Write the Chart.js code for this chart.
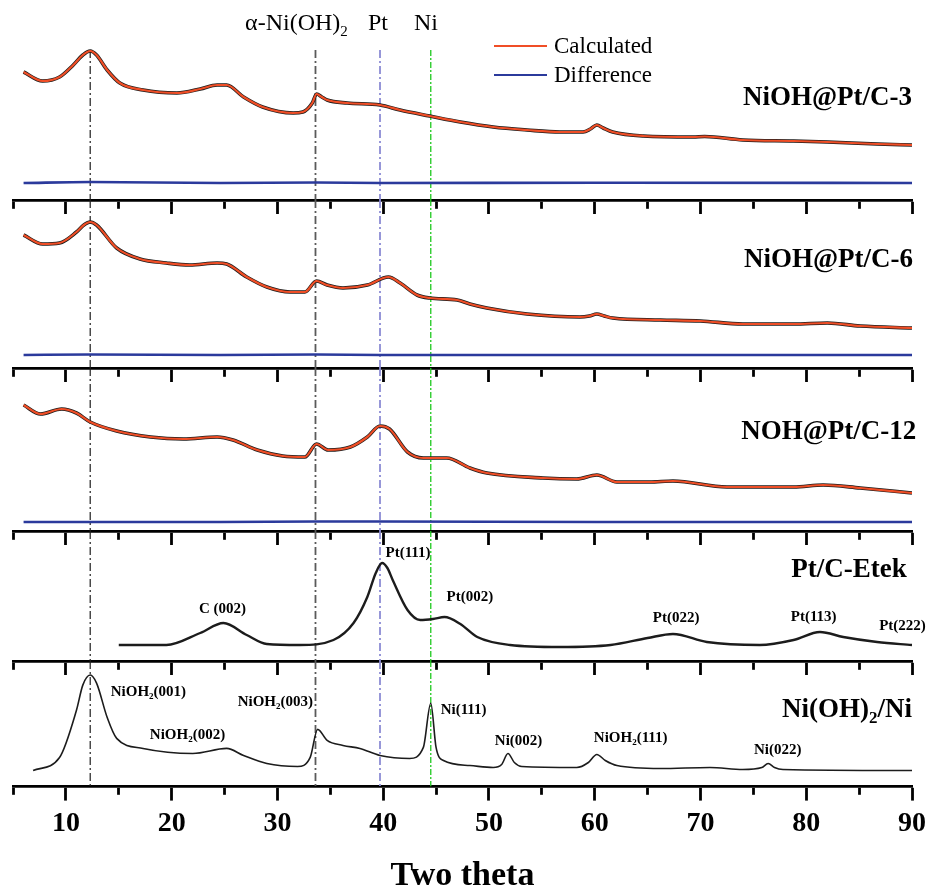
<!DOCTYPE html>
<html>
<head>
<meta charset="utf-8">
<script src="https://cdn.jsdelivr.net/npm/chart.js@4.4.1/dist/chart.umd.min.js"></script>
<style>
  html, body { margin: 0; padding: 0; background: #fff; }
  body { width: 929px; height: 891px; position: relative; overflow: hidden; font-family: "Liberation Serif", "Times New Roman", serif; }
  canvas { position: absolute; left: 0; }
  .key-line { position: absolute; height: 0; border-top: 2px solid; width: 53px; left: 494px; }
  .key-text { position: absolute; left: 554px; font-size: 23px; line-height: 1; color: #000; }
</style>
</head>
<body>
<script>
// XRD patterns, two theta (deg) vs intensity (a.u.)

const xMin = 5;
const xMax = 90;
const xStep = 5;

// reference peak positions (dash-dot guides)
const refPeaks = [12.3, 33.6, 39.7, 44.5];
const refColors = ['#1e1e1e', '#5a5a5a', '#8c8cd4', '#1ec81e'];
const refWidths = [1.2, 1.8, 1.8, 1.3];
const refTop = 150;

// NiOH@Pt/C-3
const c3X = [6, 7.8, 9.4, 10.7, 11.6, 12.3, 12.9, 13.9, 15.1, 17.3, 20.5, 22.7, 24.3, 25.2, 26.8, 28.6, 31.5, 32.4, 33.3, 33.7, 34.2, 34.7, 36.6, 39.7, 41.6, 44.4, 47.3, 50.4, 53.6, 56.7, 58.9, 59.6, 60.2, 60.8, 61.7, 64.6, 69.3, 70.4, 74, 78.8, 82, 86.7, 90];
const c3Y = [128, 119, 123, 135, 145, 149, 145, 130, 117, 110, 107, 111, 115, 115, 103, 93, 87, 88, 97, 106, 103, 100, 97, 95, 90, 84, 78, 73, 70, 68, 68, 71, 75, 72, 68, 64, 63, 63.5, 60, 59, 58, 56, 55];
const c3DiffX = [6, 12.3, 24.6, 33.7, 39.7, 60.2, 90];
const c3Diff = [17, 18, 17, 17.5, 17, 17.3, 17];

// NiOH@Pt/C-6
const c6X = [6, 7.8, 9.4, 11, 11.7, 12.3, 12.9, 14.8, 17, 19.5, 21.7, 24.3, 25.2, 27.1, 29, 31.2, 32.6, 33.7, 34.7, 36.2, 38.5, 40.5, 41.6, 43.2, 44.4, 47, 48.2, 49.8, 53.6, 58.6, 59.5, 60.2, 60.9, 61.7, 66.2, 70, 74, 78.8, 82, 85.1, 90];
const c6Y = [133, 124, 125, 136, 143, 146, 143, 120, 109, 105, 103, 105, 104, 91, 81, 76, 76, 87, 83, 80, 83, 91, 85, 73, 70, 68, 64, 60, 54, 51, 52, 54, 52, 50, 48, 47, 44, 44, 45, 42, 40];
const c6DiffX = [6, 12.3, 24.6, 33.7, 39.7, 60.2, 90];
const c6Diff = [13, 13.5, 13, 13.5, 13, 13, 13];

// NOH@Pt/C-12
const c12X = [6, 7.6, 9.6, 11, 12.3, 14.8, 18, 21.1, 24.3, 25.8, 28.1, 30.5, 32.6, 33.7, 34.8, 36.9, 38.5, 39.7, 40.6, 42.3, 43.8, 46, 48.2, 49.8, 55.1, 58.3, 60.2, 62.1, 65.2, 67.4, 72.5, 78.8, 81.6, 85.1, 90];
const c12Y = [126, 117, 122, 118, 109, 100, 94, 92, 94, 91, 81, 75, 74, 87, 81, 84, 94, 105, 102, 79, 73, 73, 63, 58, 53, 52, 56, 49, 49, 50, 44, 44, 46, 43, 38];
const c12DiffX = [6, 12.3, 24.6, 33.7, 39.7, 60.2, 90];
const c12Diff = [9, 9, 9, 9.5, 9.5, 9, 9];

// Pt/C-Etek
const etekX = [15, 19.5, 22.7, 24.9, 27.1, 29, 32.1, 35.3, 37.2, 38.5, 39.3, 39.9, 40.4, 40.9, 42.3, 43.5, 44.7, 45.8, 47.3, 48.9, 52, 56.7, 61.5, 65, 67.4, 70.6, 75.6, 78.8, 81.3, 83.5, 86.7, 90];
const etekY = [16, 16, 28, 38, 26, 17, 16, 21, 38, 64, 88, 98, 93, 81, 51, 41, 42, 44, 37, 24, 16, 14, 16, 23, 27, 19, 16, 21, 29, 24, 19, 16];
const etekPeakNames = ['C (002)', 'Pt(111)', 'Pt(002)', 'Pt(022)', 'Pt(113)', 'Pt(222)'];
const etekPeakX = [24.8, 42.35, 48.2, 67.7, 80.7, 89.1];
const etekPeakY = [52, 108, 64, 43, 44, 35];

// Ni(OH)2/Ni
const niX = [6.9, 9.4, 11, 11.6, 12.3, 12.9, 13.9, 14.8, 17.3, 22, 25.2, 26.8, 29, 31.9, 33.1, 33.8, 34.7, 36.2, 37.8, 39.7, 42.5, 43.8, 44.5, 45, 45.7, 48.2, 50.4, 51.2, 51.8, 52.4, 53.1, 58.3, 59.4, 60.2, 61, 62.1, 66.2, 70.9, 74, 75.8, 76.4, 77, 77.8, 90];
const niY = [16, 29, 76, 101, 111, 103, 69, 48, 38, 33, 38, 31, 23, 20, 29, 57, 46, 41, 38, 31, 28, 39, 83, 39, 26, 21, 19, 22, 33, 24, 20, 19, 24, 32, 26, 21, 18, 19, 17, 19, 23, 19, 17, 16];
const niPeakNames = ['NiOH_2(001)', 'NiOH_2(002)', 'NiOH_2(003)', 'Ni(111)', 'Ni(002)', 'NiOH_2(111)', 'Ni(022)'];
const niPeakX = [17.8, 21.5, 29.8, 47.6, 52.8, 63.4, 77.3];
const niPeakY = [94, 51, 84, 76, 45, 48, 36];

const calcColor = '#f04e26';
const obsColor = '#1c1c1c';
const diffColor = '#2b3a9c';

Chart.defaults.font.family = '"Liberation Serif", "Times New Roman", serif';
Chart.defaults.color = '#000';

const pts = (xs, ys) => xs.map((x, i) => ({ x, y: ys[i] }));

// text with "_" marking the next character as subscript
function drawRich(ctx, text, x, y, size, weight, align) {
    const segs = [];
    text.split('_').forEach((p, i) => {
        if (i === 0) { segs.push({ t: p, sub: false }); return; }
        segs.push({ t: p[0], sub: true });
        segs.push({ t: p.slice(1), sub: false });
    });
    const fam = '"Liberation Serif", "Times New Roman", serif';
    const big = `${weight} ${size}px ${fam}`;
    const small = `${weight} ${Math.round(size * 0.62)}px ${fam}`;
    let w = 0;
    segs.forEach(s => { ctx.font = s.sub ? small : big; s.w = ctx.measureText(s.t).width; w += s.w; });
    let cx = align === 'right' ? x - w : (align === 'left' ? x : x - w / 2);
    ctx.save();
    ctx.fillStyle = '#000';
    ctx.textAlign = 'left';
    ctx.textBaseline = 'middle';
    segs.forEach(s => {
        ctx.font = s.sub ? small : big;
        ctx.fillText(s.t, cx, s.sub ? y + size * 0.32 : y);
        cx += s.w;
    });
    ctx.restore();
}

function notesPlugin(items) {
    return {
        id: 'notes',
        afterDatasetsDraw(chart) {
            const { ctx, scales } = chart;
            items.forEach(n => {
                drawRich(ctx, n.text, scales.x.getPixelForValue(n.x), scales.y.getPixelForValue(n.y),
                    n.size, n.weight || 'bold', n.align || 'center');
            });
        }
    };
}

function refSets(top) {
    return refPeaks.map((p, i) => ({
        data: [{ x: p, y: top }, { x: p, y: 0 }],
        borderColor: refColors[i],
        borderWidth: refWidths[i],
        borderDash: i === 3 ? [6, 2, 2, 2] : [8, 3, 2, 3],
        tension: 0,
        pointRadius: 0
    }));
}

function fitSets(xs, ys, dx, dy) {
    return [
        { data: pts(xs, ys), borderColor: calcColor, borderWidth: 2.2, pointRadius: 0, cubicInterpolationMode: 'monotone' },
        { data: pts(xs, ys), borderColor: obsColor, borderWidth: 3.6, pointRadius: 0, cubicInterpolationMode: 'monotone' },
        { data: pts(dx, dy), borderColor: diffColor, borderWidth: 2.6, pointRadius: 0, cubicInterpolationMode: 'monotone' }
    ];
}

const panels = [
    {
        top: 0, height: 214, yMax: 200, refTop: refTop,
        datasets: fitSets(c3X, c3Y, c3DiffX, c3Diff),
        notes: [
            { text: 'NiOH@Pt/C-3', x: 90, y: 102, size: 27, align: 'right' },
            { text: 'α-Ni(OH)_2', x: 31.8, y: 176, size: 24, weight: 'normal' },
            { text: 'Pt', x: 39.5, y: 176, size: 24, weight: 'normal' },
            { text: 'Ni', x: 44.05, y: 176, size: 24, weight: 'normal' }
        ]
    },
    {
        top: 200, height: 182, yMax: 168,
        datasets: fitSets(c6X, c6Y, c6DiffX, c6Diff),
        notes: [{ text: 'NiOH@Pt/C-6', x: 90.1, y: 108, size: 27, align: 'right' }]
    },
    {
        top: 368, height: 177, yMax: 163,
        datasets: fitSets(c12X, c12Y, c12DiffX, c12Diff),
        notes: [{ text: 'NOH@Pt/C-12', x: 90.4, y: 99, size: 27, align: 'right' }]
    },
    {
        top: 531, height: 144, yMax: 130,
        datasets: [{ data: pts(etekX, etekY), borderColor: obsColor, borderWidth: 2.4, pointRadius: 0, cubicInterpolationMode: 'monotone' }],
        notes: [{ text: 'Pt/C-Etek', x: 89.5, y: 91, size: 27, align: 'right' }]
            .concat(etekPeakNames.map((t, i) => ({ text: t, x: etekPeakX[i], y: etekPeakY[i], size: 15 })))
    },
    {
        top: 661, height: 236, yMax: 125, last: true,
        datasets: [{ data: pts(niX, niY), borderColor: obsColor, borderWidth: 1.6, pointRadius: 0, cubicInterpolationMode: 'monotone' }],
        notes: [{ text: 'Ni(OH)_2/Ni', x: 90, y: 76, size: 27, align: 'right' }]
            .concat(niPeakNames.map((t, i) => ({ text: t, x: niPeakX[i], y: niPeakY[i], size: 15 })))
    }
];

panels.forEach(p => {
    const canvas = document.createElement('canvas');
    canvas.width = 929;
    canvas.height = p.height;
    canvas.style.top = p.top + 'px';
    document.body.appendChild(canvas);

    new Chart(canvas.getContext('2d'), {
        type: 'line',
        data: { datasets: p.datasets.concat(refSets(p.refTop ?? p.yMax)) },
        options: {
            responsive: false,
            animation: false,
            devicePixelRatio: 1,
            layout: { padding: { left: 13, right: 17, top: 0, bottom: 0 } },
            plugins: { legend: { display: false }, tooltip: { enabled: false } },
            scales: {
                x: {
                    type: 'linear',
                    min: xMin,
                    max: xMax,
                    // keep every panel on the same horizontal extent
                    afterFit: s => { s.paddingLeft = 0; s.paddingRight = 0; },
                    ticks: {
                        display: !!p.last,
                        stepSize: xStep,
                        autoSkip: false,
                        maxRotation: 0,
                        padding: 6,
                        color: '#000',
                        font: { size: 28, weight: 'bold' },
                        callback: v => (v % 10 === 0 ? v : '')
                    },
                    grid: {
                        drawOnChartArea: false,
                        tickLength: 14,
                        tickWidth: 2.8,
                        tickColor: '#000',
                        // minor ticks at the odd fives are half length
                        tickBorderDash: c => (c.tick && c.tick.value % 10 !== 0 ? [7, 40] : [])
                    },
                    border: { display: true, color: '#000', width: 2.8 },
                    title: {
                        display: !!p.last,
                        text: 'Two theta',
                        color: '#000',
                        font: { size: 34, weight: 'bold' },
                        padding: { top: 10, bottom: 0 }
                    }
                },
                y: { display: false, min: 0, max: p.yMax }
            }
        },
        plugins: [notesPlugin(p.notes)]
    });
});

// legend for the fitted curves
[['Calculated', calcColor, 46], ['Difference', diffColor, 75]].forEach(([label, color, top]) => {
    const line = document.createElement('div');
    line.className = 'key-line';
    line.style.borderTopColor = color;
    line.style.top = (top - 1) + 'px';
    document.body.appendChild(line);
    const txt = document.createElement('div');
    txt.className = 'key-text';
    txt.style.top = (top - 12) + 'px';
    txt.textContent = label;
    document.body.appendChild(txt);
});
</script>
</body>
</html>
